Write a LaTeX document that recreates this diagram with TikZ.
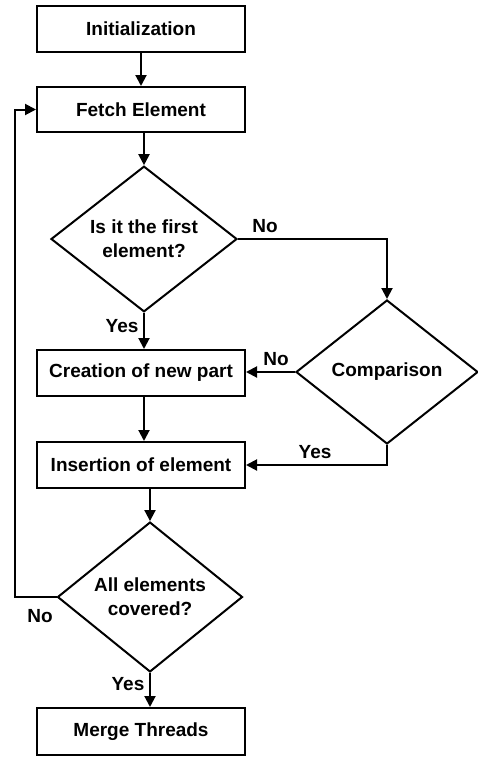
\documentclass[tikz,border=0pt]{standalone}
\usepackage{fontspec}
\setmainfont{Liberation Sans}
\usetikzlibrary{shapes.geometric,arrows.meta}
\begin{document}
\begin{tikzpicture}[x=1pt,y=-1pt,
  every node/.style={font=\bfseries\fontsize{19}{24}\selectfont},
  procbox/.style={draw,line width=2pt,minimum width=208pt,minimum height=46pt,inner sep=0pt},
  decbox/.style={draw,diamond,line width=2pt,inner sep=0pt,align=center},
  conn/.style={line width=2pt,-{Triangle[length=11pt,width=11pt]}},
  lbl/.style={inner sep=0pt}]
\useasboundingbox (0,0) rectangle (477,758);
\node[procbox] (init) at (141,29) {Initialization};
\node[procbox,minimum height=45pt] (fetch) at (141,109.5) {Fetch Element};
\node[decbox,minimum width=186pt,minimum height=144pt] (d1) at (144,239) {Is it the first\\element?};
\node[procbox] (create) at (141,373) {Creation of new part};
\node[decbox,minimum width=182pt,minimum height=144pt] (comp) at (387,372) {Comparison};
\node[procbox] (insert) at (141,465) {Insertion of element};
\node[decbox,minimum width=185pt,minimum height=144pt] (d3) at (150,597) {All elements\\covered?};
\node[procbox,minimum height=47pt] (merge) at (141,731.5) {Merge Threads};
\coordinate (loopx) at (15,0);

\draw[conn] (init.south) -- (fetch.north);
\draw[conn] (d1.north |- fetch.south) -- (d1.north);
\draw[conn] (d1.south) -- (d1.south |- create.north);
\draw[conn] (d1.east) -| (comp.north);
\draw[conn] (comp.west) -- (comp.west -| create.east);
\draw[conn] (d1.south |- create.south) -- (d1.south |- insert.north);
\draw[conn] (comp.south) |- (insert.east);
\draw[conn] (d3.north |- insert.south) -- (d3.north);
\draw[conn] (d3.west) -- (d3.west -| loopx) -- (fetch.west -| loopx) -- (fetch.west);
\draw[conn] (d3.south) -- (d3.south |- merge.north);

\node[lbl] (l1) at (122,326) {Yes};
\node[lbl] (l2) at (265,226) {No};
\node[lbl] (l3) at (276,359) {No};
\node[lbl] (l4) at (315,452) {Yes};
\node[lbl] (l5) at (40,616) {No};
\node[lbl] (l6) at (128,684) {Yes};
\end{tikzpicture}
\end{document}
